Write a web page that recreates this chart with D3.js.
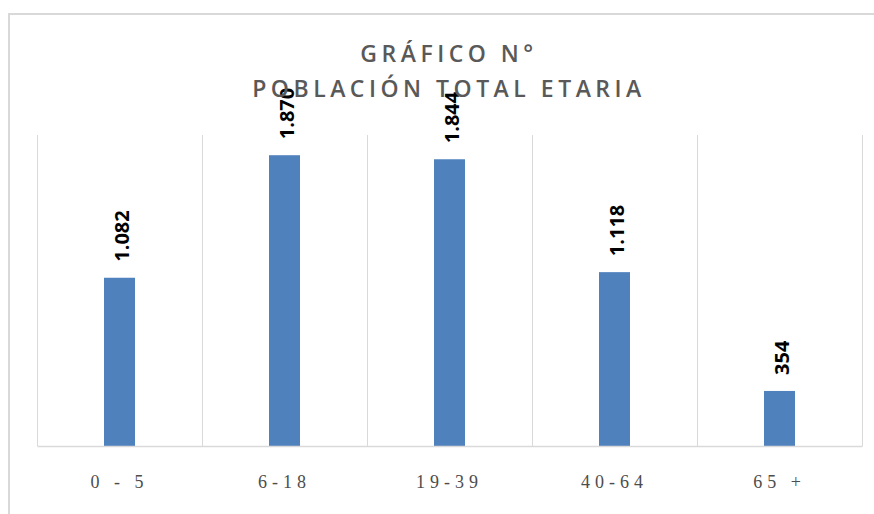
<!DOCTYPE html>
<html>
<head>
<meta charset="utf-8">
<script src="https://cdn.jsdelivr.net/npm/d3@7"></script>
<style>
html,body{margin:0;padding:0;background:#fff;}
svg{display:block;}
</style>
</head>
<body>
<svg id="chart" width="874" height="514"></svg>
<script>
const categories = ["0 - 5", "6-18", "19-39", "40-64", "65 +"];
const values = [1082, 1870, 1844, 1118, 354];
const valueLabels = ["1.082", "1.870", "1.844", "1.118", "354"];
const titleLines = ["GRÁFICO N°", "POBLACIÓN TOTAL ETARIA"];
const yDomain = [0, 2000];

const svg = d3.select("#chart");
const plot = {left: 37, right: 862, top: 135, bottom: 446};

// outer border
svg.append("rect")
  .attr("x", 9).attr("y", 14)
  .attr("width", 900).attr("height", 600)
  .attr("fill", "#fff")
  .attr("stroke", "#d9d9d9").attr("stroke-width", 2);

const x = d3.scaleBand().domain(categories).range([plot.left, plot.right]).paddingInner(0).paddingOuter(0);
const y = d3.scaleLinear().domain(yDomain).range([plot.bottom, plot.top]);

// vertical gridlines at category boundaries
const bounds = categories.map(c => x(c)).concat([x(categories[categories.length-1]) + x.bandwidth()]);
svg.append("g").selectAll("line").data(bounds).join("line")
  .attr("x1", d => d).attr("x2", d => d)
  .attr("y1", plot.top).attr("y2", plot.bottom)
  .attr("stroke", "#d9d9d9").attr("stroke-width", 1)
  .attr("shape-rendering", "crispEdges");

// bars
const barW = 31;
svg.append("g").selectAll("rect").data(values).join("rect")
  .attr("x", (d, i) => x(categories[i]) + x.bandwidth() / 2 - barW / 2)
  .attr("y", d => y(d))
  .attr("width", barW)
  .attr("height", d => y(0) - y(d))
  .attr("fill", "#4f81bd");

// baseline axis
const xAxis = d3.axisBottom(x).tickSize(0).tickPadding(0);
const gx = svg.append("g").attr("transform", `translate(0,${plot.bottom})`).call(xAxis);
gx.select(".domain").attr("stroke", "#d9d9d9").attr("stroke-width", 1.5);
gx.selectAll(".tick text")
  .attr("y", 42)
  .attr("dy", 0)
  .attr("font-family", "'Liberation Serif', serif")
  .attr("font-size", 18)
  .attr("letter-spacing", "5px")
  .attr("fill", "#4d4d4d");

// value labels
svg.append("g").selectAll("text").data(values).join("text")
  .attr("transform", (d, i) => `translate(${x(categories[i]) + x.bandwidth() / 2 + 2},${y(d) - 16}) rotate(-90)`)
  .attr("text-anchor", "start")
  .attr("dominant-baseline", "central")
  .attr("font-family", "'Open Sans', sans-serif")
  .attr("font-weight", 700)
  .attr("font-size", 20)
  .attr("fill", "#000")
  .text((d, i) => valueLabels[i]);

// title
svg.append("g").selectAll("text").data(titleLines).join("text")
  .attr("x", 449)
  .attr("y", (d, i) => 62 + i * 35)
  .attr("text-anchor", "middle")
  .attr("font-family", "'Open Sans', sans-serif")
  .attr("font-weight", 600)
  .attr("font-size", 23)
  .attr("letter-spacing", "4.5px")
  .attr("fill", "#595959")
  .text(d => d);
</script>
</body>
</html>
